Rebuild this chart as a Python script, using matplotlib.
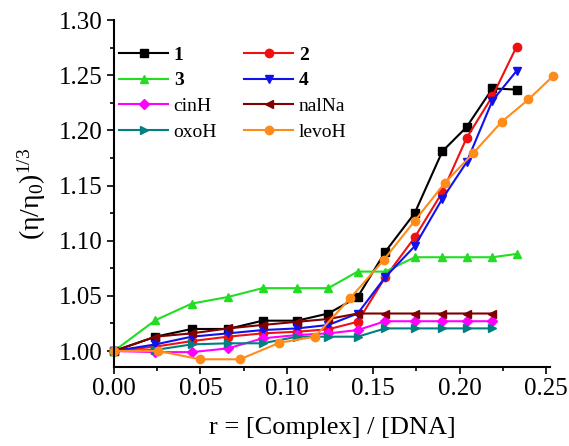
import matplotlib
matplotlib.use("Agg")
import matplotlib.pyplot as plt
from matplotlib.ticker import MultipleLocator, FormatStrFormatter

plt.rcParams['font.family'] = ['Liberation Serif', 'DejaVu Serif']
plt.rcParams['mathtext.fontset'] = 'custom'
plt.rcParams['mathtext.rm'] = 'Liberation Serif'
plt.rcParams['mathtext.default'] = 'regular'

# r values used for most series
r = [0, 0.024, 0.045, 0.066, 0.086, 0.106, 0.124, 0.141, 0.157, 0.174, 0.190, 0.204, 0.219, 0.233]
r_short = r[:13]
r_levo = [0, 0.0257, 0.0498, 0.0729, 0.0957, 0.1163, 0.1366, 0.156, 0.174, 0.1915, 0.208, 0.2243, 0.2398, 0.2542]

c1 = [1.000, 1.013, 1.020, 1.020, 1.0275, 1.0275, 1.034, 1.049, 1.090, 1.125, 1.181, 1.203, 1.238, 1.237]
c2 = [1.000, 1.004, 1.009, 1.013, 1.016, 1.0175, 1.0197, 1.0265, 1.067, 1.103, 1.144, 1.193, 1.231, 1.276]
c3 = [1.000, 1.028, 1.043, 1.049, 1.057, 1.057, 1.057, 1.072, 1.072, 1.085, 1.085, 1.085, 1.085, 1.088]
c4 = [1.000, 1.006, 1.013, 1.016, 1.019, 1.0205, 1.0236, 1.034, 1.067, 1.095, 1.138, 1.171, 1.227, 1.254]
cinH = [1.000, 0.999, 0.999, 1.0024, 1.0115, 1.0145, 1.016, 1.019, 1.027, 1.027, 1.027, 1.027, 1.027]
nalNa = [1.000, 1.013, 1.016, 1.0205, 1.0236, 1.0265, 1.029, 1.034, 1.034, 1.034, 1.034, 1.034, 1.034]
oxoH = [1.000, 1.001, 1.006, 1.007, 1.007, 1.013, 1.013, 1.013, 1.0205, 1.0205, 1.0205, 1.0205, 1.0205]
levoH = [1.000, 1.000, 0.9925, 0.9925, 1.0075, 1.013, 1.0477, 1.0824, 1.118, 1.1525, 1.1796, 1.2077, 1.228, 1.2494]

fig = plt.figure(figsize=(5.69, 4.46), dpi=100)
ax = fig.add_axes([0.2004, 0.1771, 0.7662, 0.7779])

kw = dict(lw=1.5, ms=6, clip_on=False)
h1, = ax.plot(r, c1, color='black', marker='s', label='1', **kw)
h2, = ax.plot(r, c2, color='#ee1111', marker='o', label='2', **kw)
h3, = ax.plot(r, c3, color='#22dd22', marker='^', label='3', **kw)
h4, = ax.plot(r, c4, color='#1111ee', marker='v', label='4', **kw)
h5, = ax.plot(r_short, cinH, color='#ff00ff', marker='D', label='cinH', lw=1.5, ms=5, clip_on=False)
h6, = ax.plot(r_short, nalNa, color='#800000', marker='<', label='nalNa', **kw)
h7, = ax.plot(r_short, oxoH, color='#008080', marker='>', label='oxoH', **kw)
h8, = ax.plot(r_levo, levoH, color='#ff8c1a', marker='o', label='levoH', **kw)

ax.set_xlim(0, 0.2523)
ax.set_ylim(0.9855, 1.30)
ax.xaxis.set_major_locator(MultipleLocator(0.05))
ax.xaxis.set_minor_locator(MultipleLocator(0.025))
ax.yaxis.set_major_locator(MultipleLocator(0.05))
ax.yaxis.set_minor_locator(MultipleLocator(0.025))
ax.xaxis.set_major_formatter(FormatStrFormatter('%.2f'))
ax.yaxis.set_major_formatter(FormatStrFormatter('%.2f'))
ax.tick_params(which='major', direction='out', length=5, width=1.2, labelsize=18, pad=3)
ax.tick_params(which='minor', direction='out', length=3, width=1.2)
for s in ['top', 'right']:
    ax.spines[s].set_visible(False)
for s in ['left', 'bottom']:
    ax.spines[s].set_linewidth(1.5)

ax.set_xlabel('r = [Complex] / [DNA]', fontsize=19, labelpad=12)
ax.set_ylabel(r'$(\eta/\eta_0)^{1/3}$', fontsize=20, labelpad=8)

handles = [h1, h3, h5, h7, h2, h4, h6, h8]
leg = ax.legend(handles=handles, labels=[h.get_label() for h in handles], ncol=2,
                loc='upper left', bbox_to_anchor=(0.012, 0.925), frameon=False,
                fontsize=14, handlelength=2.5, handletextpad=0.3, columnspacing=1.4,
                labelspacing=0.42, borderpad=0, borderaxespad=0)
for t in leg.get_texts():
    if t.get_text() in ('1', '2', '3', '4'):
        t.set_fontweight('bold')

fig.savefig('out.png', dpi=100)
